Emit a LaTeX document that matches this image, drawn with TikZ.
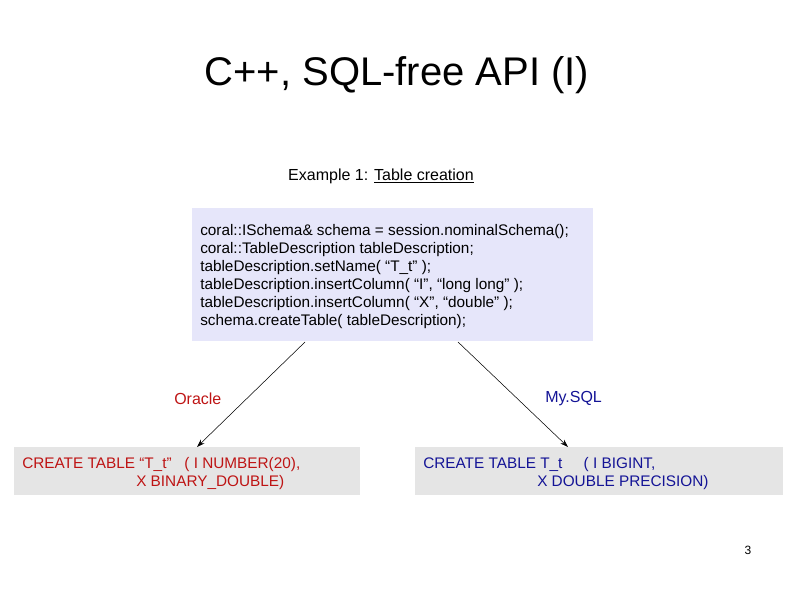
\documentclass[tikz,border=0pt]{standalone}
\usepackage{fontspec}
\setmainfont{Liberation Sans}
\usetikzlibrary{arrows.meta}
\definecolor{codebg}{RGB}{230,230,250}
\definecolor{sqlbg}{RGB}{229,229,229}
\definecolor{ored}{RGB}{190,20,20}
\definecolor{myblue}{RGB}{20,20,150}
\begin{document}
\begin{tikzpicture}[x=0.75pt,y=-0.75pt,
  txt/.style={inner sep=0pt,anchor=west,font=\fontsize{11.5}{13.5}\selectfont},
  arr/.style={-{Stealth[length=6pt,width=4pt]},thin}]
\useasboundingbox (0,0) rectangle (794,595);
\node (title) at (397,75) {\fontsize{30}{34}\selectfont C++, SQL-free API (I)};
\node (ex) at (381,176) {\fontsize{12}{14}\selectfont Example 1: \underline{Table creation}};
\fill[codebg] (192,208) rectangle (593,341);
\node[coordinate] (cbl) at (305,342) {};
\node[coordinate] (cbr) at (458,342) {};
\node[txt,align=left,anchor=north west] (code) at (200,224) {coral::ISchema\& schema = session.nominalSchema();\\
coral::TableDescription tableDescription;\\
tableDescription.setName( “T\_t” );\\
tableDescription.insertColumn( “I”, “long long” );\\
tableDescription.insertColumn( “X”, “double” );\\
schema.createTable( tableDescription);};
\fill[sqlbg] (14,447) rectangle (360,495);
\fill[sqlbg] (415,447) rectangle (783,495);
\node[coordinate] (lt) at (197,447) {};
\node[coordinate] (rt) at (568,447) {};
\draw[arr] (cbl) -- (lt);
\draw[arr] (cbr) -- (rt);
\node[txt,text=ored,font=\fontsize{12}{14}\selectfont] (ora) at (174,399) {Oracle};
\node[txt,text=myblue,font=\fontsize{12}{14}\selectfont] (my) at (545,399) {My.SQL};
\node[txt,text=ored] (o1) at (22,465) {CREATE TABLE “T\_t”\ \ \ ( I NUMBER(20),};
\node[txt,text=ored] (o2) at (136,483) {X BINARY\_DOUBLE)};
\node[txt,text=myblue] (m1) at (423,465) {CREATE TABLE T\_t\ \ \ \ \ ( I BIGINT,};
\node[txt,text=myblue] (m2) at (537,483) {X DOUBLE PRECISION)};
\node[font=\fontsize{9}{10}\selectfont] (pg) at (748,550) {3};
\end{tikzpicture}
\end{document}
